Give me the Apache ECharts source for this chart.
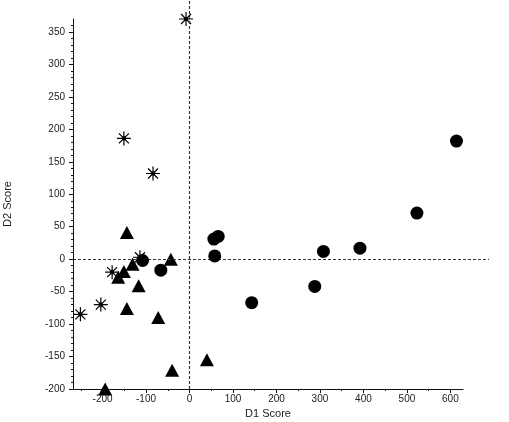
<!DOCTYPE html>
<html>
<head>
<meta charset="utf-8">
<script src="https://cdn.jsdelivr.net/npm/echarts@6/dist/echarts.min.js"></script>
<style>
  html, body { margin: 0; padding: 0; background: #fff; }
  #chart { width: 509px; height: 422px; }
</style>
</head>
<body>
<div id="chart"></div>
<script>
  // D1 / D2 scores per group
  const circleX = [614, 523, 392, 308, 288, 143, 58, 56, 66, -66, -108];
  const circleY = [182, 71, 17, 12, -42, -67, 5, 31, 35, -17, -2];
  const triangleX = [-144, -43, -131, -151, -164, -117, -144, -72, 40, -40, -194];
  const triangleY = [41, 0, -8, -19, -28, -41, -76, -90, -155, -171, -200];
  const starX = [-8, -151, -84, -251, -204, -178, -114];
  const starY = [370, 186, 132, -85, -70, -20, 3];

  const xTicks = [-200, -100, 0, 100, 200, 300, 400, 500, 600];
  const xMinorTicks = [-250, -150, -50, 50, 150, 250, 350, 450, 550];
  const yTicks = [-200, -150, -100, -50, 0, 50, 100, 150, 200, 250, 300, 350];
  const refX = [0];
  const refY = [0];

  const yMinorTicks = [];
  for (let v = -190; v < 370; v += 10) {
    if (yTicks.indexOf(v) < 0) yMinorTicks.push(v);
  }

  const pairs = (xs, ys) => xs.map((x, i) => [x, ys[i]]);
  const font = 'Liberation Sans, Arial, sans-serif';
  const starPath = 'path://M0,7L14,7M7,0L7,14M2,2L12,12M12,2L2,12M5.5,5.5L8.5,5.5L8.5,8.5L5.5,8.5Z';

  const chart = echarts.init(document.getElementById('chart'));
  chart.setOption({
    animation: false,
    backgroundColor: '#fff',
    grid: [
      { left: 73, right: 46, top: 19, bottom: 33, outerBoundsMode: 'none' },
      // wider box just for the dashed zero lines
      { left: 73, right: 20, top: 0, bottom: 33, outerBoundsMode: 'none' }
    ],
    xAxis: [
      {
        gridIndex: 0, type: 'value', min: -268, max: 629, position: 'bottom',
        name: 'D1 Score', nameLocation: 'middle', nameGap: 18,
        nameTextStyle: { fontSize: 11, color: '#222', fontFamily: font },
        axisLine: { show: true, onZero: false, lineStyle: { color: '#111', width: 1 } },
        axisTick: { show: true, customValues: xTicks, length: 4, lineStyle: { color: '#111' } },
        axisLabel: { customValues: xTicks, fontSize: 10, color: '#222', fontFamily: font, margin: 5 },
        splitLine: { show: false }
      },
      {
        gridIndex: 0, type: 'value', min: -268, max: 629, position: 'bottom',
        axisLine: { show: false, onZero: false },
        axisTick: { show: true, customValues: xMinorTicks, length: 2, lineStyle: { color: '#111' } },
        axisLabel: { show: false },
        splitLine: { show: false }
      },
      {
        gridIndex: 1, type: 'value', min: -268, max: 688, show: false
      }
    ],
    yAxis: [
      {
        gridIndex: 0, type: 'value', min: -200, max: 370,
        name: 'D2 Score', nameLocation: 'middle', nameGap: 60,
        nameTextStyle: { fontSize: 11, color: '#222', fontFamily: font },
        axisLine: { show: true, onZero: false, lineStyle: { color: '#111', width: 1 } },
        axisTick: { show: true, customValues: yTicks, length: 4, lineStyle: { color: '#111' } },
        axisLabel: { customValues: yTicks, fontSize: 10, color: '#222', fontFamily: font, margin: 8 },
        splitLine: { show: false }
      },
      {
        gridIndex: 0, type: 'value', min: -200, max: 370, position: 'left',
        axisLine: { show: false, onZero: false },
        axisTick: { show: true, customValues: yMinorTicks, length: 2, lineStyle: { color: '#111' } },
        axisLabel: { show: false },
        splitLine: { show: false }
      },
      {
        gridIndex: 1, type: 'value', min: -200, max: 398, show: false
      }
    ],
    series: [
      {
        type: 'line', xAxisIndex: 2, yAxisIndex: 2, data: [], z: 1, silent: true,
        markLine: {
          silent: true, symbol: 'none', label: { show: false },
          lineStyle: { type: [3, 2], color: '#333', width: 1.2, opacity: 1 },
          data: refX.map(v => ({ xAxis: v })).concat(refY.map(v => ({ yAxis: v })))
        }
      },
      {
        name: 'asterisk', type: 'scatter', clip: false, z: 3,
        symbol: starPath, symbolSize: 14,
        itemStyle: { color: '#000', borderColor: '#000', borderWidth: 1.2, opacity: 1 },
        data: pairs(starX, starY)
      },
      {
        name: 'triangle', type: 'scatter', clip: false, z: 4,
        symbol: 'triangle', symbolSize: [14, 13],
        itemStyle: { color: '#000', opacity: 1 },
        data: pairs(triangleX, triangleY)
      },
      {
        name: 'circle', type: 'scatter', clip: false, z: 5,
        symbol: 'circle', symbolSize: 13,
        itemStyle: { color: '#000', opacity: 1 },
        data: pairs(circleX, circleY)
      }
    ]
  });
</script>
</body>
</html>
